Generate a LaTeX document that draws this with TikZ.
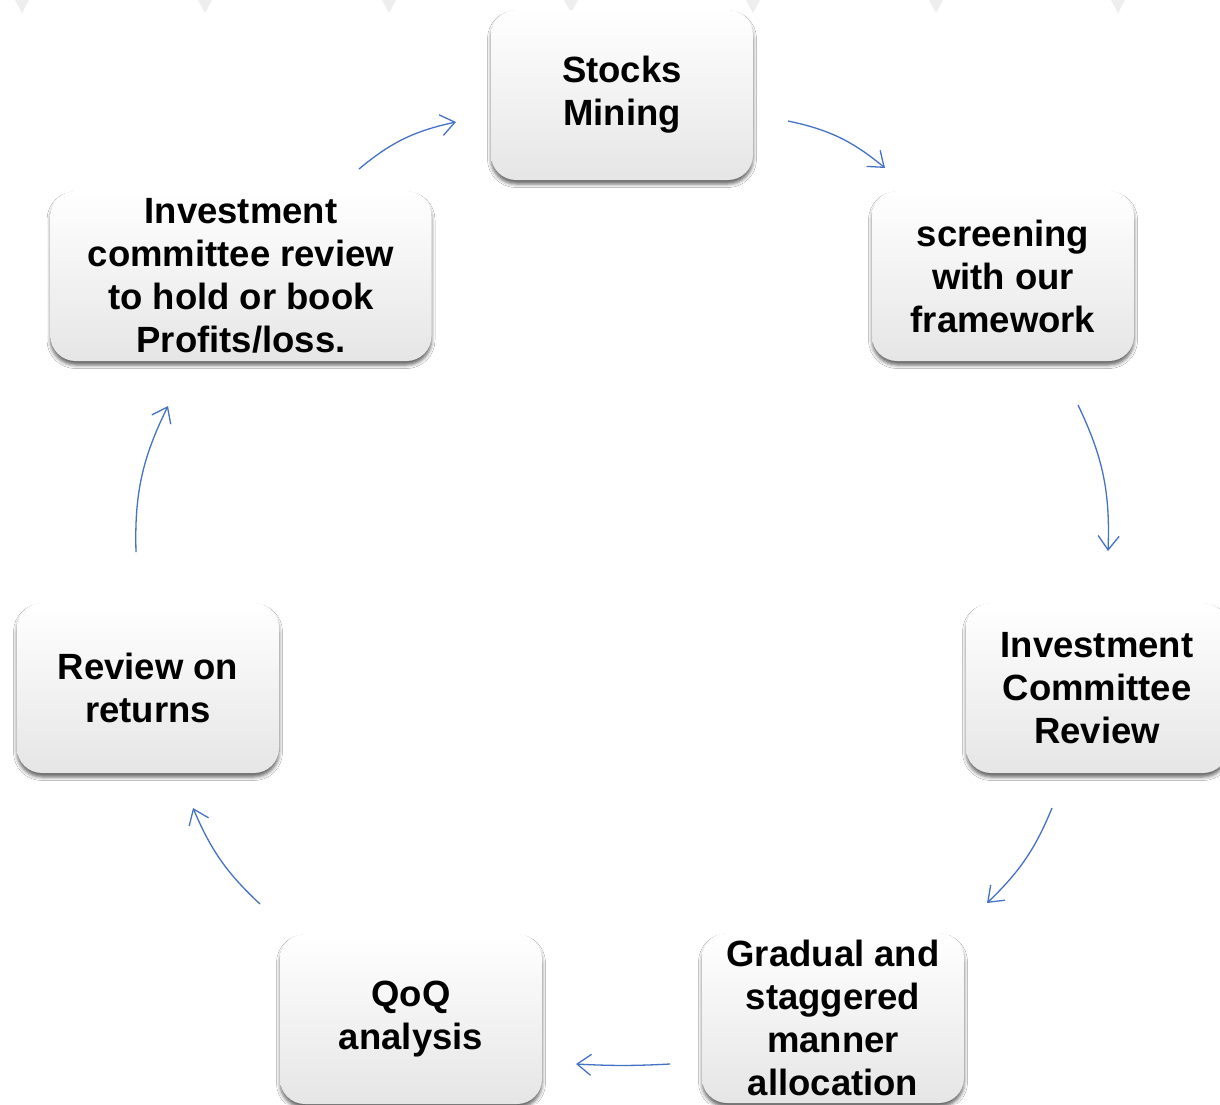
\documentclass[tikz,border=0pt]{standalone}
\usepackage{fontspec}
\setmainfont{Liberation Sans}
\usetikzlibrary{arrows.meta,shadows.blur,bending}
\definecolor{arrowblue}{HTML}{4472C4}
\definecolor{edgegray}{HTML}{EEEEEE}
\begin{document}
\begin{tikzpicture}[x=1pt,y=1pt,
  stepbox/.style={rounded corners=25pt, minimum width=262pt, minimum height=170pt,
    inner sep=0pt, align=center, draw=none,
    top color=white, middle color=white, bottom color=black!10,
    blur shadow={shadow xshift=0pt, shadow yshift=-4pt, shadow blur radius=3.5pt, shadow opacity=60},
    font=\fontsize{36.5}{43}\selectfont\bfseries},
  flow/.style={draw=arrowblue, line width=1.3pt, -{Straight Barb[length=14pt,width=21pt]}},
  notch/.style={fill=edgegray, draw=none}]
\useasboundingbox (0,0) rectangle (1220,-1104);
\fill[white] (0,0) rectangle (1220,-1104);

% faint notches along the top edge
\foreach \x in {22,205,389,571,753,936,1118}
  \fill[notch] (\x-7,0) -- (\x+7,0) -- (\x,-13) -- cycle;

% process steps
\node[stepbox] (mining) at (622,-95) {Stocks\\Mining};
\node[stepbox] (screen) at (1003,-276) {screening\\with our\\framework};
\node[stepbox] (icr) at (1097,-688) {Investment\\Committee\\Review};
\node[stepbox] (alloc) at (833,-1018) {Gradual and\\staggered\\manner\\allocation};
\node[stepbox] (qoq) at (411,-1019) {QoQ\\analysis};
\node[stepbox] (returns) at (148,-688) {Review on\\returns};
\node[stepbox, minimum width=381pt] (hold) at (241,-276) {Investment\\committee review\\to hold or book\\Profits/loss.};

% arrow end points between the steps
\coordinate (a1s) at (359,-169);  \coordinate (a1e) at (456,-122);
\coordinate (a2s) at (788,-121);  \coordinate (a2e) at (885,-168);
\coordinate (a3s) at (1078,-405); \coordinate (a3e) at (1108,-551);
\coordinate (a4s) at (1052,-808); \coordinate (a4e) at (987,-903);
\coordinate (a5s) at (670,-1064); \coordinate (a5e) at (576,-1064);
\coordinate (a6s) at (260,-904);  \coordinate (a6e) at (193,-808);
\coordinate (a7s) at (136,-552);  \coordinate (a7e) at (168,-406);

\draw[flow] (a1s) to[bend left=14] (a1e);
\draw[flow] (a2s) to[bend left=14] (a2e);
\draw[flow] (a3s) to[bend left=14] (a3e);
\draw[flow] (a4s) to[bend left=12] (a4e);
\draw[flow] (a5s) to[bend left=3] (a5e);
\draw[flow] (a6s) to[bend left=12] (a6e);
\draw[flow] (a7s) to[bend left=14] (a7e);
\end{tikzpicture}
\end{document}
